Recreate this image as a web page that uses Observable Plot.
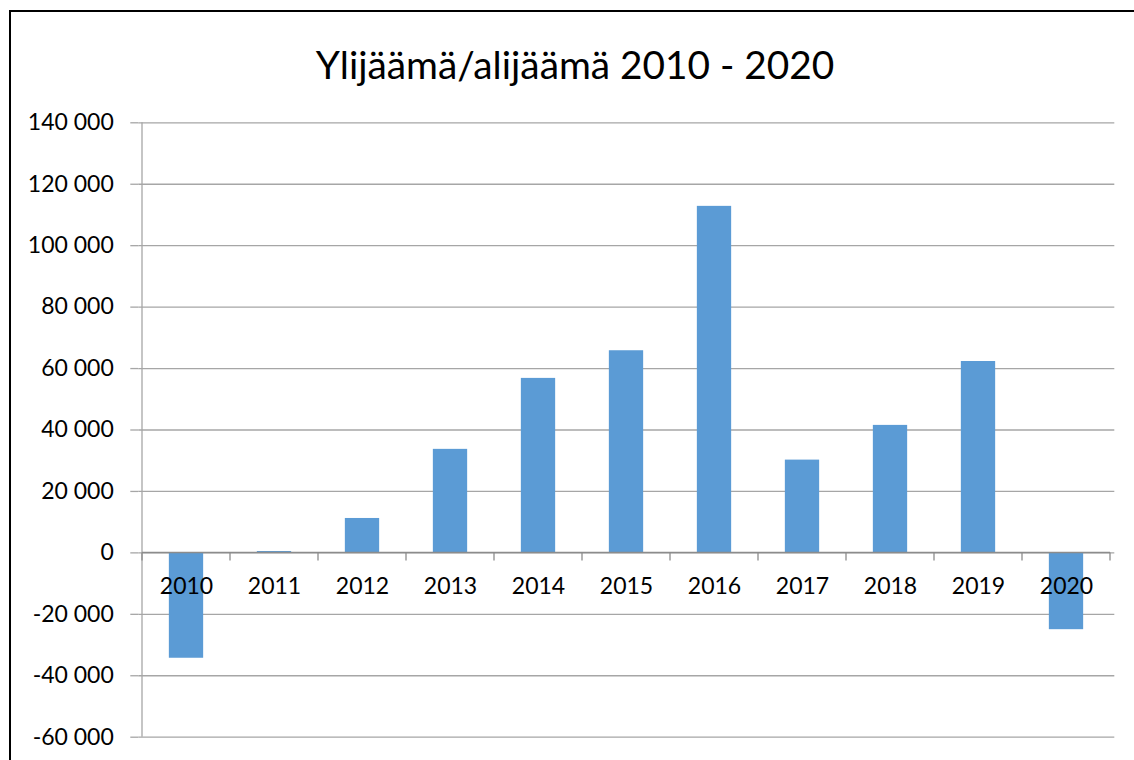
<!DOCTYPE html>
<html><head><meta charset="utf-8">
<script src="https://cdn.jsdelivr.net/npm/d3@7"></script>
<script src="https://cdn.jsdelivr.net/npm/@observablehq/plot@0.6"></script>
<style>
body{margin:0;background:#fff;overflow:hidden;font-family:Lato,"Open Sans",sans-serif;}
#wrap{position:relative;width:1134px;height:760px;}
#head{position:relative;height:100px;}
#title{position:absolute;left:9px;width:1132px;top:44.5px;text-align:center;font-size:38.8px;line-height:38.8px;color:#000;white-space:nowrap;}
#frame{position:absolute;left:9px;top:10px;width:1200px;height:800px;border-left:2px solid #000;border-top:2px solid #000;pointer-events:none;z-index:5;}
#plot svg{display:block;background:transparent;}
</style></head>
<body>
<div id="wrap">
  <div id="head"><div id="title">Ylijäämä/alijäämä 2010 - 2020</div></div>
  <div id="plot"></div>
  <div id="frame"></div>
</div>
<script>
const years = ["2010","2011","2012","2013","2014","2015","2016","2017","2018","2019","2020"];
const values = [-34300, 450, 11200, 33700, 56800, 65800, 112800, 30200, 41500, 62300, -25000];
const yTicks = [-60000, -40000, -20000, 0, 20000, 40000, 60000, 80000, 100000, 120000, 140000];

const data = years.map((year, i) => ({year, value: values[i]}));
const fmt = d => (d < 0 ? "-" : "") + d3.format(",")(Math.abs(d)).replace(/,/g, " ");

function axisLines(index, scales, values, dims) {
  const {x, y} = scales;
  const g = d3.create("svg:g");
  const step = x(years[1]) - x(years[0]);
  const x0 = x(years[0]);
  const y0 = y(0);
  g.append("line").attr("x1", x0).attr("x2", x0)
    .attr("y1", y(yTicks[yTicks.length - 1])).attr("y2", y(yTicks[0]))
    .attr("stroke", "#a6a6a6").attr("stroke-width", 1.3);
  g.append("line").attr("x1", x0).attr("x2", x0 + step * years.length)
    .attr("y1", y0).attr("y2", y0)
    .attr("stroke", "#8c8c8c").attr("stroke-width", 1.5);
  for (let i = 0; i <= years.length; i++) {
    const xi = x0 + step * i;
    g.append("line").attr("x1", xi).attr("x2", xi)
      .attr("y1", y0).attr("y2", y0 + 8)
      .attr("stroke", "#8c8c8c").attr("stroke-width", 1.3);
  }
  return g.node();
}

const chart = Plot.plot({
  width: 1134,
  height: 660,
  marginTop: 22.3,
  marginBottom: 23.3,
  marginLeft: 138.3,
  marginRight: 19.7,
  style: {fontFamily: "Lato, 'Open Sans', sans-serif", fontSize: "23px", color: "#000", background: "transparent"},
  x: {domain: years, padding: 0, axis: null},
  y: {domain: [-60000, 140000], axis: null},
  marks: [
    Plot.gridY(yTicks, {stroke: "#a6a6a6", strokeOpacity: 1, strokeWidth: 1.3}),
    Plot.axisY(yTicks, {tickSize: 8, tickPadding: 17, tickFormat: fmt, stroke: "#a6a6a6", strokeWidth: 1.3, fill: "#000", fontSize: 23, label: null}),
    Plot.barY(data, {x: "year", y: "value", fill: "#5b9bd5", insetLeft: 26.85, insetRight: 26.85}),
    axisLines,
    Plot.text(data, {x: "year", y: 0, text: "year", dy: 34, fontSize: 23, fill: "#000"})
  ]
});
document.getElementById("plot").appendChild(chart);
</script>
</body></html>
